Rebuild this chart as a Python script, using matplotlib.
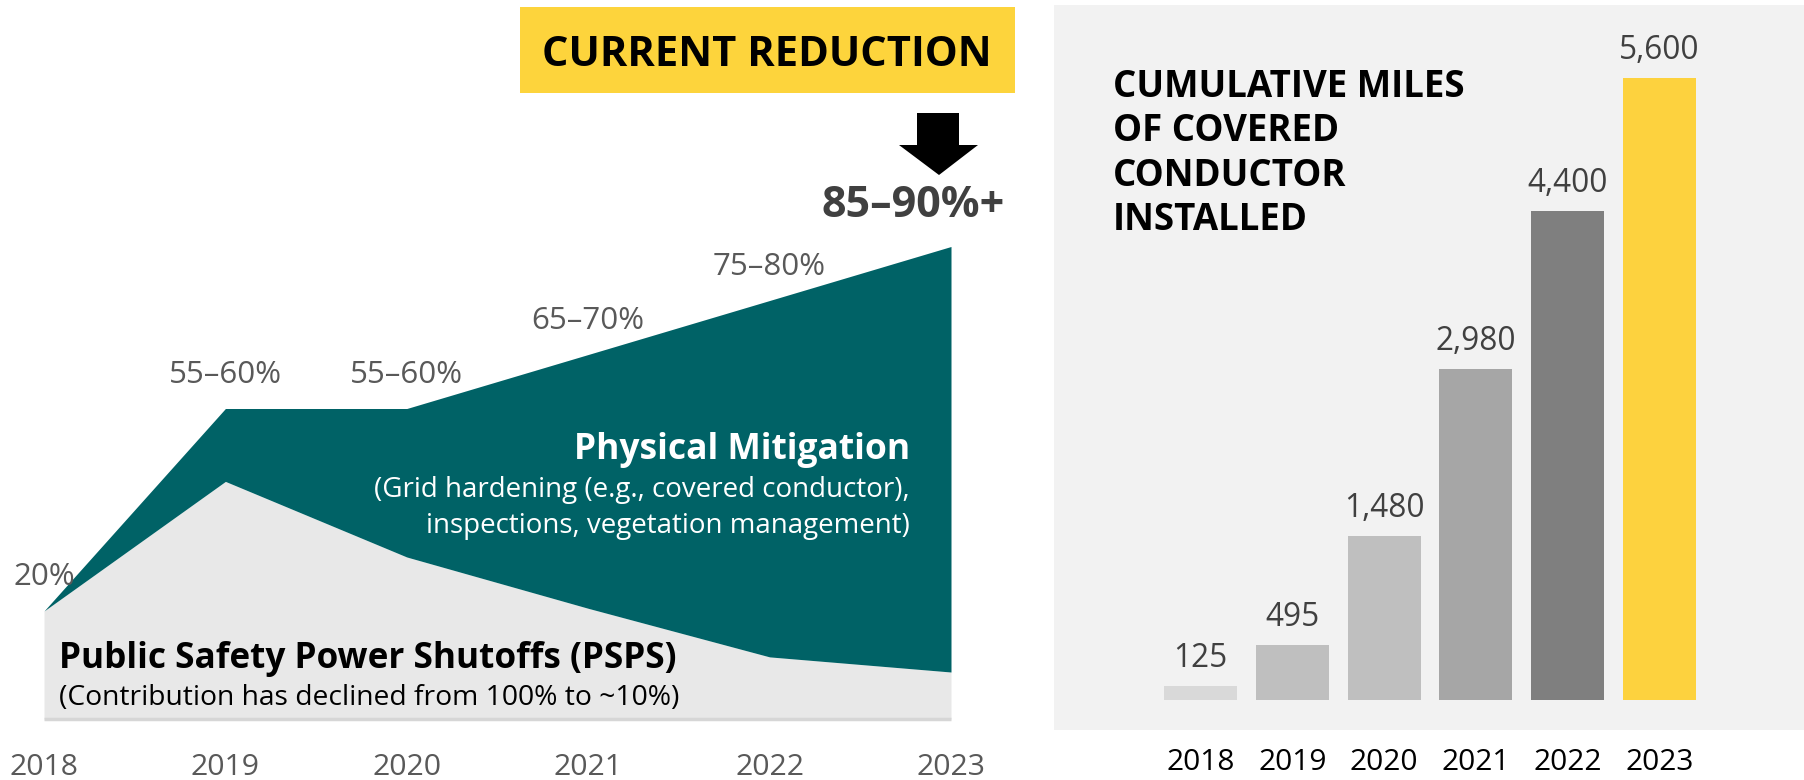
import matplotlib
matplotlib.use("Agg")
import matplotlib.pyplot as plt
from matplotlib.patches import Rectangle, Polygon

plt.rcParams['font.family'] = ['Open Sans', 'DejaVu Sans']

W, H = 1804, 780

# ---------------- data ----------------
years = [2018, 2019, 2020, 2021, 2022, 2023]
total_reduction = [20, 57.5, 57.5, 67.5, 77.5, 87.5]      # % (top of teal area)
psps_part = [20, 44, 30, 20.5, 11.5, 8.7]                 # % (top of grey area)
range_labels = ["20%", "55–60%", "55–60%", "65–70%", "75–80%"]

bar_years = ["2018", "2019", "2020", "2021", "2022", "2023"]
miles = [125, 495, 1480, 2980, 4400, 5600]
miles_labels = ["125", "495", "1,480", "2,980", "4,400", "5,600"]
bar_colors = ["#d9d9d9", "#bfbfbf", "#bfbfbf", "#a6a6a6", "#7f7f7f", "#fdd23e"]

TEAL = "#006266"
GREY_AREA = "#e8e8e8"
YELLOW = "#fdd43c"

fig = plt.figure(figsize=(W / 100, H / 100), dpi=100)


def fx(x):
    return x / W


def fy(y):
    return 1 - y / H


def axes_px(x0, y0, x1, y1):
    return fig.add_axes([fx(x0), fy(y1), (x1 - x0) / W, (y1 - y0) / H])


# ---------------- left area chart ----------------
ax = axes_px(44, 179, 951, 719)
ax.set_xlim(2018, 2023)
ax.set_ylim(0, 100)
ax.fill_between(years, 0, psps_part, color=GREY_AREA, lw=0, zorder=1)
ax.fill_between(years, psps_part, total_reduction, color=TEAL, lw=0, zorder=2)
ax.hlines(0, 2018, 2023, color="#d6d6d6", lw=2.5, zorder=3, clip_on=False)
for yr, v, lab in zip(years, total_reduction, range_labels):
    ax.annotate(lab, (yr, v), xytext=(0, 18.7), textcoords="offset points",
                ha="center", va="baseline", fontsize=22.5, color="#595959",
                annotation_clip=False)
ax.set_xticks(years)
ax.set_xticklabels([str(y) for y in years], fontsize=21.7, color="#595959")
for t in ax.get_xticklabels():
    t.set_verticalalignment("baseline")
ax.tick_params(axis="x", length=0, pad=40.3)
ax.set_yticks([])
for s in ax.spines.values():
    s.set_visible(False)
ax.patch.set_alpha(0)

# in-area labels
fig.text(fx(910), fy(459.5), "Physical Mitigation", ha="right", va="baseline",
         fontsize=25.5, fontweight="bold", color="white")
fig.text(fx(910), fy(497), "(Grid hardening (e.g., covered conductor),",
         ha="right", va="baseline", fontsize=20, color="white")
fig.text(fx(910), fy(533), "inspections, vegetation management)",
         ha="right", va="baseline", fontsize=20, color="white")
fig.text(fx(59), fy(668), "Public Safety Power Shutoffs (PSPS)", ha="left",
         va="baseline", fontsize=25.3, fontweight="bold", color="black")
fig.text(fx(59), fy(705), "(Contribution has declined from 100% to ~10%)",
         ha="left", va="baseline", fontsize=20.3, color="black")

# current reduction box + arrow
fig.patches.append(Rectangle((fx(520), fy(93)), (1015 - 520) / W, (93 - 7) / H,
                             transform=fig.transFigure, color=YELLOW, lw=0))
fig.text(fx(767), fy(66), "CURRENT REDUCTION", ha="center", va="baseline",
         fontsize=30, fontweight="bold", color="black")
arrow_pts = [(917, 113), (959, 113), (959, 145), (978, 145), (939, 175),
             (899, 145), (917, 145)]
fig.patches.append(Polygon([(fx(x), fy(y)) for x, y in arrow_pts], closed=True,
                           transform=fig.transFigure, color="black", lw=0))
fig.text(fx(913), fy(217), "85–90%+", ha="center", va="baseline",
         fontsize=31, fontweight="bold", color="#404040")

# ---------------- right bar chart ----------------
bx = axes_px(1054, 5, 1804, 730)
bx.set_facecolor("#f2f2f2")
xpos = list(range(len(miles)))
bx.bar(xpos, miles, width=0.795, color=bar_colors, lw=0)
bx.set_xlim(-1.596, 6.574)
bx.set_ylim(-270, 6255)
for xp, v, lab in zip(xpos, miles, miles_labels):
    bx.annotate(lab, (xp, v), xytext=(0, 13.7), textcoords="offset points",
                ha="center", va="baseline", fontsize=22.8, color="#404040")
bx.set_xticks(xpos)
bx.set_xticklabels(bar_years, fontsize=21.5, color="black")
for t in bx.get_xticklabels():
    t.set_verticalalignment("baseline")
bx.tick_params(axis="x", length=0, pad=29.0)
bx.set_yticks([])
for s in bx.spines.values():
    s.set_visible(False)

title_lines = ["CUMULATIVE MILES", "OF COVERED", "CONDUCTOR", "INSTALLED"]
for i, line in enumerate(title_lines):
    fig.text(fx(1113), fy(96.7 + 44.5 * i), line, ha="left", va="baseline",
             fontsize=26.4, fontweight="bold", color="black")

fig.savefig("out.png", dpi=100)
